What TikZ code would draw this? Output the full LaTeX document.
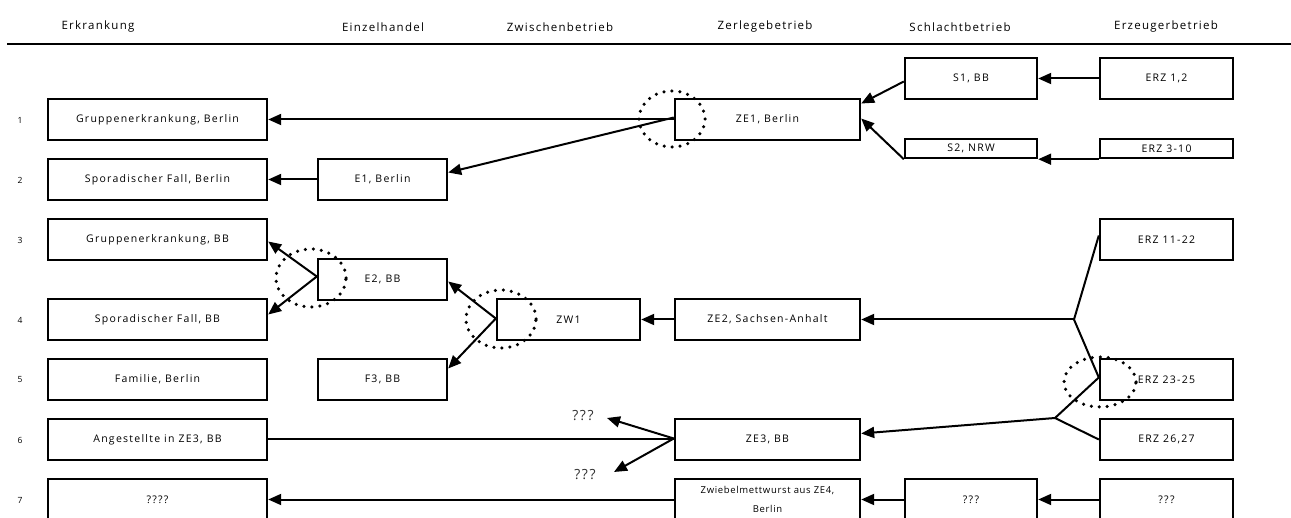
\documentclass[tikz,border=0pt]{standalone}
\usepackage{fontspec}
\setmainfont{Open Sans}
\newfontfamily\boxfont[LetterSpace=12]{Open Sans}
\newfontfamily\smallboxfont[LetterSpace=7]{Open Sans}
\newfontfamily\headfont[LetterSpace=11]{Open Sans}
\usetikzlibrary{arrows.meta}
\tikzset{
  boxnode/.style={draw, line width=2.4pt, inner sep=0pt, font=\boxfont\fontsize{10.5}{12}\selectfont, align=center},
  leftbox/.style={boxnode, minimum width=219pt, minimum height=41pt},
  ehbox/.style={boxnode, minimum width=129pt, minimum height=41pt},
  zwbox/.style={boxnode, minimum width=143pt, minimum height=41pt},
  zebox/.style={boxnode, minimum width=185pt, minimum height=41pt},
  slbox/.style={boxnode, minimum width=132pt, minimum height=41pt},
  erbox/.style={boxnode, minimum width=133pt, minimum height=41pt},
  thinbox/.style={minimum height=19pt},
  twoline/.style={font=\smallboxfont\fontsize{9.5}{19}\selectfont},
  head/.style={font=\headfont\fontsize{11.5}{13}\selectfont},
  rownum/.style={font=\fontsize{8.5}{10}\selectfont},
  qlabel/.style={font=\boxfont\fontsize{14}{16}\selectfont, text=black!80},
  ln/.style={line width=2pt},
  arr/.style={line width=2pt, -{Triangle[length=13pt,width=11pt]}},
  dotring/.style={line width=3.5pt, line cap=round, dash pattern=on 0pt off 8pt}
}
\begin{document}
\begin{tikzpicture}[x=1pt,y=-1pt]
\useasboundingbox (0,0) rectangle (1291,518);
\clip (0,0) rectangle (1291,518);
% header
\node[head] (h1) at (98,27) {Erkrankung};
\node[head] (h2) at (383,27) {Einzelhandel};
\node[head] (h3) at (560,27) {Zwischenbetrieb};
\node[head] (h4) at (765,27) {Zerlegebetrieb};
\node[head] (h5) at (960,27) {Schlachtbetrieb};
\node[head] (h6) at (1166,27) {Erzeugerbetrieb};
\coordinate (hl) at (7,44);
\coordinate (hr) at (1291,44);
\draw[line width=2pt] (hl) -- (hr);
% row numbers
\node[rownum] (r1) at (20,120) {1};
\node[rownum] (r2) at (20,180) {2};
\node[rownum] (r3) at (20,240) {3};
\node[rownum] (r4) at (20,320) {4};
\node[rownum] (r5) at (20,380) {5};
\node[rownum] (r6) at (20,440) {6};
\node[rownum] (r7) at (20,500) {7};
% left column
\node[leftbox] (g1) at (157.5,119.5) {Gruppenerkrankung, Berlin};
\node[leftbox] (sp1) at (157.5,179.5) {Sporadischer Fall, Berlin};
\node[leftbox] (gbb) at (157.5,239.5) {Gruppenerkrankung, BB};
\node[leftbox] (spbb) at (157.5,319.5) {Sporadischer Fall, BB};
\node[leftbox] (fam) at (157.5,379.5) {Familie, Berlin};
\node[leftbox] (ang) at (157.5,439.5) {Angestellte in ZE3, BB};
\node[leftbox] (qq) at (157.5,499.5) {????};
% Einzelhandel
\node[ehbox] (e1) at (382.5,179.5) {E1, Berlin};
\node[ehbox] (e2) at (382.5,279.5) {E2, BB};
\node[ehbox] (f3) at (382.5,379.5) {F3, BB};
% Zwischenbetrieb
\node[zwbox] (zw1) at (568.5,319.5) {ZW1};
% Zerlegebetrieb
\node[zebox] (ze1) at (767.5,119.5) {ZE1, Berlin};
\node[zebox] (ze2) at (767.5,319.5) {ZE2, Sachsen-Anhalt};
\node[zebox] (ze3) at (767.5,439.5) {ZE3, BB};
\node[zebox, twoline] (ze4) at (767.5,499.5) {Zwiebelmettwurst aus ZE4,\\Berlin};
% Schlachtbetrieb
\node[slbox] (s1) at (971,78.5) {S1, BB};
\node[slbox, thinbox] (s2) at (971,148.5) {S2, NRW};
\node[slbox] (sq) at (971,499.5) {???};
% Erzeugerbetrieb
\node[erbox] (e12) at (1166.5,78.5) {ERZ 1,2};
\node[erbox, thinbox] (e310) at (1166.5,148.5) {ERZ 3-10};
\node[erbox] (e1122) at (1166.5,239.5) {ERZ 11-22};
\node[erbox] (e2325) at (1166.5,379.5) {ERZ 23-25};
\node[erbox] (e2627) at (1166.5,439.5) {ERZ 26,27};
\node[erbox] (eq) at (1166.5,499.5) {???};
% junctions and free ends
\coordinate (j1) at (1074,319.5);
\coordinate (j2) at (1055,418);
\coordinate (q1) at (607,418);
\coordinate (q2) at (614,472);
\node[qlabel] (ql1) at (583,416) {???};
\node[qlabel] (ql2) at (585,475) {???};
% connectors
\draw[arr] (e12.west) -- (s1.east);
\draw[arr] (e310.south west) -- (s2.south east);
\draw[arr] ([yshift=-3pt]s1.west) -- ([yshift=16pt]ze1.east);
\draw[arr] (s2.south west) -- ([yshift=1pt]ze1.east);
\draw[arr] (ze1.west) -- (g1.east);
\draw[arr] ([yshift=2pt]ze1.west) -- ([yshift=7pt]e1.east);
\draw[arr] (e1.west) -- (sp1.east);
\draw[arr] ([yshift=3pt]e2.west) -- ([yshift=-2pt]gbb.east);
\draw[arr] ([yshift=3pt]e2.west) -- ([yshift=5pt]spbb.east);
\draw[arr] ([yshift=1pt]zw1.west) -- ([yshift=-2pt]e2.east);
\draw[arr] ([yshift=1pt]zw1.west) -- ([yshift=11pt]f3.east);
\draw[arr] (ze2.west) -- (zw1.east);
\draw[ln] ([yshift=4pt]e1122.west) -- (j1);
\draw[ln] ([yshift=2pt]e2325.west) -- (j1);
\draw[arr] (j1) -- (ze2.east);
\draw[ln] ([yshift=2pt]e2325.west) -- (j2);
\draw[ln] (e2627.west) -- (j2);
\draw[arr] (j2) -- ([yshift=6pt]ze3.east);
\draw[ln] (ze3.west) -- (ang.east);
\draw[arr] ([yshift=1pt]ze3.west) -- (q1);
\draw[arr] ([yshift=1pt]ze3.west) -- (q2);
\draw[arr] (eq.west) -- (sq.east);
\draw[arr] (sq.west) -- (ze4.east);
\draw[arr] (ze4.west) -- (qq.east);
% dotted rings
\draw[dotring] (672,119) ellipse [x radius=33pt, y radius=28pt];
\draw[dotring] (311,278) ellipse [x radius=35pt, y radius=29pt];
\draw[dotring] (501,319) ellipse [x radius=35pt, y radius=29pt];
\draw[dotring] (1100,382) ellipse [x radius=36pt, y radius=25pt];
\end{tikzpicture}
\end{document}
